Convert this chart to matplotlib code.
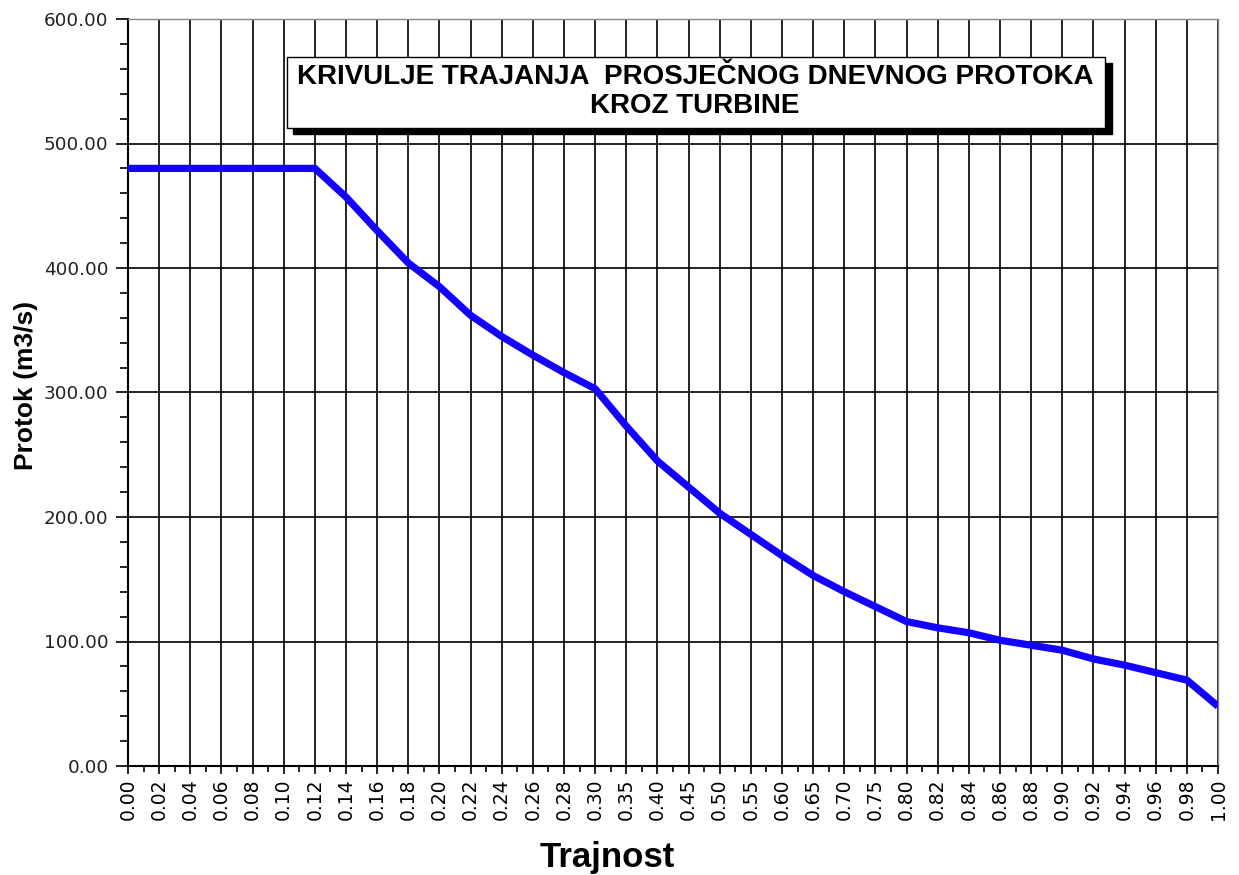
import matplotlib
matplotlib.use('Agg')
import matplotlib.pyplot as plt
from matplotlib.patches import Rectangle
from matplotlib.ticker import MultipleLocator, FormatStrFormatter

# duration (category labels on the x axis) and flow values
trajnost = ["0.00", "0.02", "0.04", "0.06", "0.08", "0.10", "0.12", "0.14",
            "0.16", "0.18", "0.20", "0.22", "0.24", "0.26", "0.28", "0.30",
            "0.35", "0.40", "0.45", "0.50", "0.55", "0.60", "0.65", "0.70",
            "0.75", "0.80", "0.82", "0.84", "0.86", "0.88", "0.90", "0.92",
            "0.94", "0.96", "0.98", "1.00"]
protok = [480, 480, 480, 480, 480, 480, 480, 457,
          430, 404, 385, 362, 345, 330, 316, 303,
          273, 245, 224, 203, 186, 169, 153, 140,
          128, 116, 111, 107, 101, 97, 93, 86,
          81, 75, 69, 48]

title_lines = ["KRIVULJE TRAJANJA  PROSJEČNOG DNEVNOG PROTOKA", "KROZ TURBINE"]

plt.rcParams['font.family'] = ['Liberation Sans', 'DejaVu Sans']

W, H = 1239, 875
fig = plt.figure(figsize=(W / 100, H / 100), dpi=100)
fig.patch.set_facecolor('white')
ax = fig.add_axes([128 / W, 1 - 766 / H, (1218 - 128) / W, (766 - 19) / H])

ax.plot(trajnost, protok, color='#1400ff', lw=5.2, solid_joinstyle='round',
        solid_capstyle='butt', zorder=3)

ax.set_xlim(0, len(trajnost) - 1)
ax.set_ylim(0, 600)

# grid
ax.yaxis.set_major_locator(MultipleLocator(100))
ax.yaxis.set_minor_locator(MultipleLocator(20))
ax.yaxis.set_major_formatter(FormatStrFormatter('%.2f'))
ax.xaxis.set_minor_locator(MultipleLocator(0.5))
ax.grid(True, which='major', color='black', lw=1.2)
ax.set_axisbelow(True)

ax.tick_params(axis='y', which='major', length=9, width=1.2, direction='out',
               labelsize=13.2, pad=5)
ax.tick_params(axis='y', which='minor', length=6, width=1.2, direction='out')
ax.tick_params(axis='x', which='major', length=6, width=1.2, direction='out',
               labelsize=13.5, labelrotation=90, pad=3)
ax.tick_params(axis='x', which='minor', length=4, width=1.2, direction='out')
for lab in ax.get_yticklabels() + ax.get_xticklabels():
    lab.set_family('DejaVu Sans')
for lab in ax.get_yticklabels():
    lab.set_color('#222222')

for s in ['top', 'right']:
    ax.spines[s].set_color('#888888')
    ax.spines[s].set_linewidth(1)
for s in ['left', 'bottom']:
    ax.spines[s].set_color('black')
    ax.spines[s].set_linewidth(1.5)

ax.set_ylabel("Protok (m3/s)", fontsize=19, fontweight='bold')
ax.yaxis.set_label_coords(-0.083, 0.51)
ax.set_xlabel("Trajnost", fontsize=25, fontweight='bold')
ax.xaxis.set_label_coords(0.44, -0.1)

# title box with shadow (in figure pixel coords)
def fig_rect(x0, y0, x1, y1, **kw):
    return Rectangle((x0 / W, 1 - y1 / H), (x1 - x0) / W, (y1 - y0) / H,
                     transform=fig.transFigure, **kw)

fig.patches.append(fig_rect(293, 63, 1112, 134, facecolor='black',
                            edgecolor='black', zorder=5))
fig.patches.append(fig_rect(287, 57, 1105, 128, facecolor='white',
                            edgecolor='black', lw=1, zorder=6))
fig.text(695 / W, 1 - 77 / H, title_lines[0], ha='center', va='center',
         fontsize=20, fontweight='bold', zorder=7)
fig.text(695 / W, 1 - 106 / H, title_lines[1], ha='center', va='center',
         fontsize=20, fontweight='bold', zorder=7)

fig.savefig('out.png', dpi=100, facecolor='white')
